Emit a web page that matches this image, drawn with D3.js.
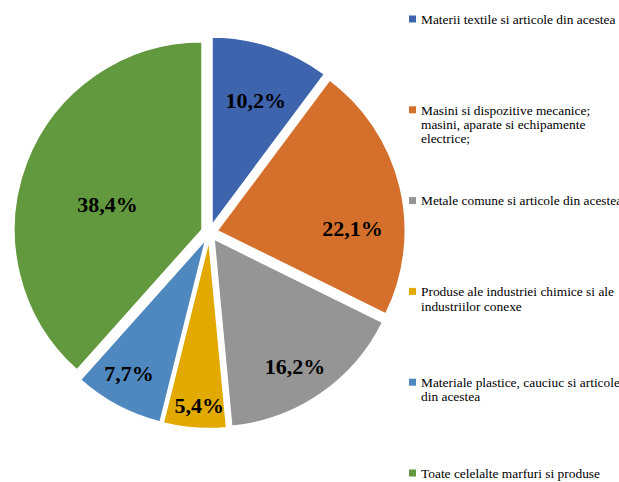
<!DOCTYPE html>
<meta charset="utf-8">
<style>
  body { margin: 0; background: #fff; }
</style>
<script src="https://d3js.org/d3.v7.min.js"></script>
<div id="chart"></div>
<script>

    var categories = [
      ["Materii textile si articole din acestea"],
      ["Masini si dispozitive mecanice;", "masini, aparate si echipamente", "electrice;"],
      ["Metale comune si articole din acestea"],
      ["Produse ale industriei chimice si ale", "industriilor conexe"],
      ["Materiale plastice, cauciuc si articole", "din acestea"],
      ["Toate celelalte marfuri si produse"]
    ];
    var values = [10.2, 22.1, 16.2, 5.4, 7.7, 38.4];
    var labels = ["10,2%", "22,1%", "16,2%", "5,4%", "7,7%", "38,4%"];
    var colors = ["#3E64AE", "#D4702C", "#959595", "#E2AA00", "#4F88BE", "#62993E"];

    var width = 619, height = 482;
    var cx = 209.5, cy = 232.5, r = 188, explode = 8;

    var svg = d3.select("#chart")
      .append("svg")
        .attr("width", width)
        .attr("height", height);

    var pie = d3.pie().sort(null).value(function(d) { return d; });
    var arcs = pie(values);
    var arc = d3.arc().innerRadius(0).outerRadius(r);

    // label placement tweaks (radius fraction, angle shift in degrees)
    var labelFrac = [0.70, 0.72, 0.80, 0.88, 0.82, 0.52];
    var labelShift = [1, 12.5, 2, -1, 2, -6];

    var g = svg.append("g")
        .attr("transform", "translate(" + cx + "," + cy + ")");

    var slice = g.selectAll(".slice")
      .data(arcs)
      .enter()
      .append("g")
        .attr("class", "slice")
        .attr("transform", function(d) {
          var a = (d.startAngle + d.endAngle) / 2;
          return "translate(" + (Math.sin(a) * explode) + "," + (-Math.cos(a) * explode) + ")";
        });

    slice.append("path")
        .attr("d", arc)
        .attr("fill", function(d, i) { return colors[i]; })
        .attr("stroke", "#fff")
        .attr("stroke-width", 1.5);

    slice.append("text")
        .attr("x", function(d, i) {
          var a = (d.startAngle + d.endAngle) / 2 + labelShift[i] * Math.PI / 180;
          return Math.sin(a) * r * labelFrac[i];
        })
        .attr("y", function(d, i) {
          var a = (d.startAngle + d.endAngle) / 2 + labelShift[i] * Math.PI / 180;
          return -Math.cos(a) * r * labelFrac[i];
        })
        .attr("dy", "0.35em")
        .attr("text-anchor", "middle")
        .attr("font-family", "'Liberation Serif', 'Times New Roman', serif")
        .attr("font-weight", "bold")
        .attr("font-size", "22px")
        .attr("fill", "#000")
        .text(function(d, i) { return labels[i]; });

    // legend
    var legendY = d3.scalePoint()
        .domain(d3.range(categories.length))
        .range([19, 473]);

    var legend = svg.append("g")
      .selectAll(".item")
      .data(categories)
      .enter()
      .append("g")
        .attr("class", "item")
        .attr("transform", function(d, i) { return "translate(409," + legendY(i) + ")"; });

    legend.append("rect")
        .attr("x", 0)
        .attr("y", -3.5)
        .attr("width", 7)
        .attr("height", 7)
        .attr("fill", function(d, i) { return colors[i]; });

    legend.append("text")
        .attr("font-family", "'Liberation Serif', 'Times New Roman', serif")
        .attr("font-size", "13.4px")
        .attr("fill", "#000")
      .selectAll("tspan")
      .data(function(d) { return d; })
      .enter()
      .append("tspan")
        .attr("x", 12)
        .attr("y", function(d, i) { return i * 14.5; })
        .attr("dy", "0.35em")
        .text(function(d) { return d; });

</script>
